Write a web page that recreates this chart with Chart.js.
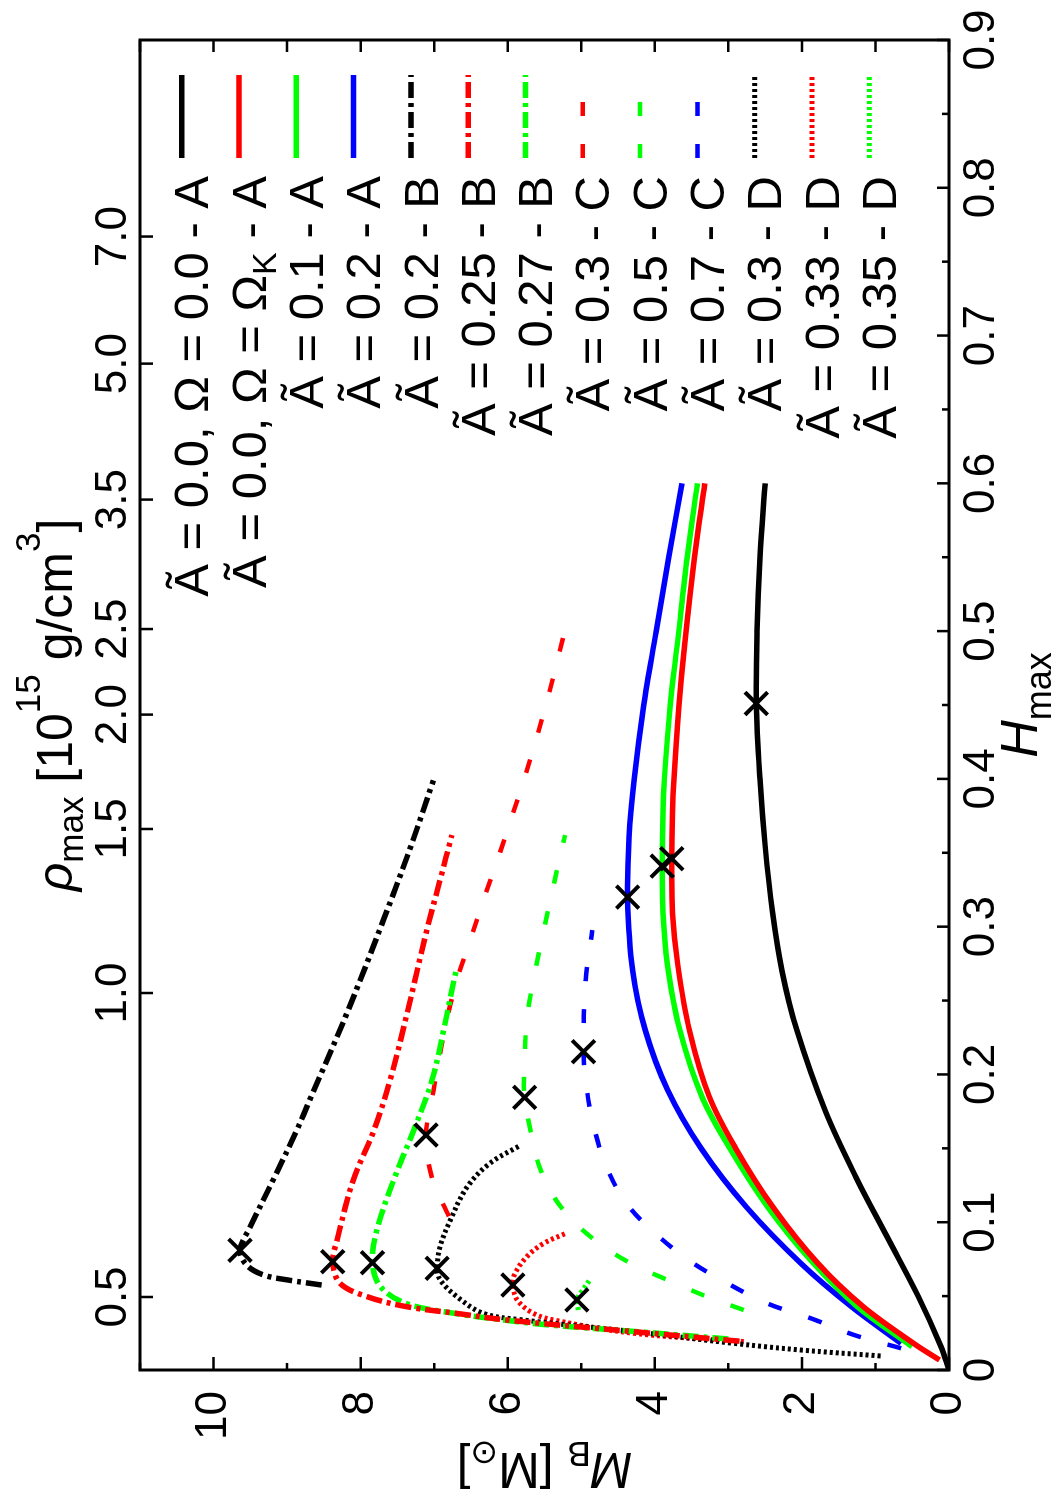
<!DOCTYPE html>
<html>
<head>
<meta charset="utf-8">
<title>Baryonic mass vs H_max</title>
<script src="https://cdn.jsdelivr.net/npm/chart.js@4.4.1/dist/chart.umd.min.js"></script>
<style>
    html, body { margin: 0; padding: 0; background: #fff; }
    #page { position: relative; width: 1053px; height: 1490px; overflow: hidden; background: #fff; }
    /* the figure is drawn landscape and turned a quarter turn, like the original print */
    #turn { position: absolute; left: 0; top: 0; width: 1490px; height: 1053px;
            transform-origin: 0 0; transform: translate(0, 1490px) rotate(-90deg); }
</style>
</head>
<body>
<div id="page"><div id="turn"><canvas id="massChart" width="1490" height="1053"></canvas></div></div>
<script>
// Axis ticks
const hTicks = [0, 0.1, 0.2, 0.3, 0.4, 0.5, 0.6, 0.7, 0.8, 0.9];
const hTickLabels = ['0', '0.1', '0.2', '0.3', '0.4', '0.5', '0.6', '0.7', '0.8', '0.9'];
const hMinorTicks = [0.05, 0.15, 0.25, 0.35, 0.45, 0.55, 0.65, 0.75, 0.85];
const mTicks = [0, 2, 4, 6, 8, 10];
const mTickLabels = ['0', '2', '4', '6', '8', '10'];
const mMinorTicks = [1, 3, 5, 7, 9, 11];
// top axis: rho_max ticks placed at their H_max positions
const rhoTickH = [0.0494, 0.2551, 0.3661, 0.4435, 0.5014, 0.589, 0.681, 0.767];
const rhoTickLabels = ['0.5', '1.0', '1.5', '2.0', '2.5', '3.5', '5.0', '7.0'];

// Curves: H_max (x) and M_B (y)
// A - solid
const hA00 = [0, 0.016, 0.05, 0.09, 0.13, 0.175, 0.23, 0.27, 0.31, 0.355, 0.40, 0.451, 0.50, 0.55, 0.6];
const mA00 = [0, 0.11, 0.42, 0.84, 1.26, 1.68, 2.07, 2.27, 2.40, 2.50, 2.57, 2.62, 2.61, 2.57, 2.50];
const hAK = [0.0068, 0.018, 0.043, 0.072, 0.11, 0.15, 0.185, 0.23, 0.275, 0.309, 0.346, 0.377, 0.40, 0.45, 0.493, 0.55, 0.6];
const mAK = [0.13, 0.48, 1.17, 1.78, 2.39, 2.90, 3.26, 3.53, 3.69, 3.76, 3.77, 3.76, 3.74, 3.67, 3.59, 3.46, 3.32];
const hA01 = [0.0158, 0.043, 0.072, 0.11, 0.15, 0.185, 0.23, 0.275, 0.309, 0.341, 0.377, 0.40, 0.45, 0.493, 0.55, 0.6];
const mA01 = [0.50, 1.25, 1.84, 2.46, 2.98, 3.36, 3.66, 3.83, 3.89, 3.90, 3.89, 3.87, 3.79, 3.69, 3.56, 3.42];
const hA02 = [0.018, 0.043, 0.072, 0.11, 0.15, 0.19, 0.23, 0.27, 0.32, 0.36, 0.40, 0.45, 0.50, 0.55, 0.6];
const mA02 = [0.65, 1.33, 2.01, 2.75, 3.37, 3.83, 4.13, 4.30, 4.37, 4.35, 4.28, 4.15, 3.98, 3.81, 3.63];
// B - dash-dot
const hB020 = [0.0575, 0.061, 0.0643, 0.071, 0.081, 0.097, 0.1286, 0.162, 0.183, 0.241, 0.3045, 0.354, 0.399];
const mB020 = [8.53, 9.0, 9.32, 9.55, 9.64, 9.50, 9.19, 8.87, 8.69, 8.19, 7.69, 7.32, 7.01];
const hB025 = [0.0195, 0.026, 0.0338, 0.0383, 0.0428, 0.0496, 0.0587, 0.0733, 0.088, 0.1286, 0.162, 0.196, 0.241, 0.2977, 0.3316, 0.362];
const mB025 = [2.85, 4.3, 6.01, 6.69, 7.37, 7.91, 8.28, 8.38, 8.32, 8.10, 7.82, 7.60, 7.37, 7.10, 6.92, 6.76];
const hB027 = [0.021, 0.026, 0.0305, 0.0338, 0.0383, 0.045, 0.0564, 0.0726, 0.0947, 0.1286, 0.162, 0.196, 0.228, 0.264, 0.272];
const mB027 = [3.0, 4.25, 5.45, 6.05, 6.72, 7.38, 7.73, 7.84, 7.78, 7.55, 7.28, 7.03, 6.88, 6.73, 6.69];
// C - dashed
const hC030 = [0.104, 0.13, 0.159, 0.189, 0.232, 0.264, 0.291, 0.318, 0.345, 0.372, 0.399, 0.452, 0.501];
const mC030 = [6.80, 7.03, 7.11, 7.01, 6.85, 6.69, 6.51, 6.33, 6.14, 5.96, 5.78, 5.47, 5.22];
const hC050 = [0.0406, 0.0496, 0.061, 0.0733, 0.09, 0.1105, 0.135, 0.162, 0.1845, 0.196, 0.237, 0.264, 0.293, 0.3226, 0.3496, 0.362];
const mC050 = [2.79, 3.29, 3.83, 4.37, 4.87, 5.28, 5.55, 5.69, 5.77, 5.78, 5.74, 5.65, 5.53, 5.40, 5.28, 5.22];
const hC070 = [0.0147, 0.0237, 0.035, 0.045, 0.0586, 0.0733, 0.0914, 0.1117, 0.1365, 0.1647, 0.192, 0.2154, 0.264, 0.2977];
const mC070 = [0.65, 1.29, 1.88, 2.47, 3.01, 3.51, 3.97, 4.37, 4.65, 4.83, 4.93, 4.97, 4.94, 4.85];
// D - dotted
const hD030 = [0.0095, 0.0135, 0.018, 0.026, 0.0338, 0.0383, 0.0496, 0.061, 0.0688, 0.0834, 0.1015, 0.124, 0.14, 0.152];
const mD030 = [0.93, 2.01, 2.92, 4.29, 5.78, 6.33, 6.69, 6.92, 6.96, 6.92, 6.78, 6.55, 6.24, 5.83];
const hD033 = [0.0192, 0.0248, 0.0338, 0.0383, 0.0474, 0.0575, 0.0654, 0.0767, 0.0857, 0.0925];
const mD033 = [2.79, 4.28, 5.37, 5.65, 5.87, 5.93, 5.90, 5.74, 5.51, 5.21];
const hD035 = [0.0406, 0.0474, 0.0519, 0.062];
const mD035 = [5.04, 5.06, 5.01, 4.87];

// Crosses (maximum mass points)
const markerH = [0.451, 0.346, 0.341, 0.32, 0.081, 0.0733, 0.0726, 0.159, 0.1845, 0.2154, 0.0688, 0.0575, 0.0474];
const markerM = [2.62, 3.77, 3.90, 4.37, 9.64, 8.38, 7.84, 7.11, 5.77, 4.97, 6.96, 5.93, 5.06];

// Styles
const BLACK = '#000000', RED = '#ff0000', GREEN = '#00ff00', BLUE = '#0000ff';
const FONT = "'Liberation Sans', 'DejaVu Sans', sans-serif";
const lineStyles = {
    solid:   { width: 5.5, dash: [] },
    dashdot: { width: 5.5, dash: [16, 5, 4, 5] },
    dashed:  { width: 4.5, dash: [14, 28] },
    dotted:  { width: 5,   dash: [3, 3] }
};

const series = [
    { label: 'Ã = 0.0, Ω = 0.0 - A',  h: hA00,  m: mA00,  color: BLACK, style: 'solid' },
    { label: 'Ã = 0.0, Ω = Ω_K - A',  h: hAK,   m: mAK,   color: RED,   style: 'solid' },
    { label: 'Ã = 0.1 - A',           h: hA01,  m: mA01,  color: GREEN, style: 'solid' },
    { label: 'Ã = 0.2 - A',           h: hA02,  m: mA02,  color: BLUE,  style: 'solid' },
    { label: 'Ã = 0.2 - B',           h: hB020, m: mB020, color: BLACK, style: 'dashdot' },
    { label: 'Ã = 0.25 - B',          h: hB025, m: mB025, color: RED,   style: 'dashdot' },
    { label: 'Ã = 0.27 - B',          h: hB027, m: mB027, color: GREEN, style: 'dashdot' },
    { label: 'Ã = 0.3 - C',           h: hC030, m: mC030, color: RED,   style: 'dashed' },
    { label: 'Ã = 0.5 - C',           h: hC050, m: mC050, color: GREEN, style: 'dashed' },
    { label: 'Ã = 0.7 - C',           h: hC070, m: mC070, color: BLUE,  style: 'dashed' },
    { label: 'Ã = 0.3 - D',           h: hD030, m: mD030, color: BLACK, style: 'dotted' },
    { label: 'Ã = 0.33 - D',          h: hD033, m: mD033, color: RED,   style: 'dotted' },
    { label: 'Ã = 0.35 - D',          h: hD035, m: mD035, color: GREEN, style: 'dotted' }
];

// Layout (canvas is landscape, 1490 x 1053)
const CW = 1490, CH = 1053;
const PLOT_LEFT = 120, PLOT_RIGHT = 1450, PLOT_TOP = 140, PLOT_BOTTOM = 949;

const toPoints = (hs, ms) => hs.map((h, i) => ({ x: h, y: ms[i] }));

// text with sub/superscripts
const drawRich = (ctx, parts, x, y, align) => {
    let w = 0;
    parts.forEach(p => { ctx.font = p.font; w += ctx.measureText(p.t).width; });
    let cx = align === 'right' ? x - w : (align === 'center' ? x - w / 2 : x);
    parts.forEach(p => {
        ctx.font = p.font;
        ctx.fillText(p.t, cx, y + (p.dy || 0));
        cx += ctx.measureText(p.t).width;
    });
};

const labelParts = (label, size) => {
    const parts = [];
    label.split(/_(.)/).forEach((t, i) => {
        if (!t) return;
        if (i % 2 === 1) parts.push({ t, font: `${Math.round(size * 0.7)}px ${FONT}`, dy: size * 0.22 });
        else parts.push({ t, font: `${size}px ${FONT}` });
    });
    return parts;
};

// Frame, inward ticks, axis titles and key
const figurePlugin = {
    id: 'figure',
    afterDatasetsDraw(chart) {
        const { ctx, chartArea: a, scales } = chart;
        const x = scales.x, y = scales.y;
        ctx.save();
        ctx.strokeStyle = '#000';
        ctx.fillStyle = '#000';
        ctx.lineCap = 'butt';
        ctx.setLineDash([]);

        // ticks
        ctx.lineWidth = 2.5;
        ctx.beginPath();
        const tickH = (vals, len) => vals.forEach(h => {
            const px = x.getPixelForValue(h);
            ctx.moveTo(px, a.bottom); ctx.lineTo(px, a.bottom - len);
        });
        tickH(hTicks, 12);
        tickH(hMinorTicks, 7);
        rhoTickH.forEach(h => {
            const px = x.getPixelForValue(h);
            ctx.moveTo(px, a.top); ctx.lineTo(px, a.top + 13);
        });
        const tickM = (vals, lenL, lenR) => vals.forEach(m => {
            const py = y.getPixelForValue(m);
            ctx.moveTo(a.left, py); ctx.lineTo(a.left + lenL, py);
            ctx.moveTo(a.right, py); ctx.lineTo(a.right - lenR, py);
        });
        tickM(mTicks, 13, 12);
        tickM(mMinorTicks, 7, 12);
        ctx.stroke();

        // frame
        ctx.lineWidth = 3;
        ctx.strokeRect(a.left, a.top, a.right - a.left, a.bottom - a.top);

        // axis titles
        ctx.textBaseline = 'alphabetic';
        drawRich(ctx, [
            { t: 'H', font: `italic 52px ${FONT}` },
            { t: 'max', font: `36px ${FONT}`, dy: 14 }
        ], (a.left + a.right) / 2, 1037, 'center');

        drawRich(ctx, [
            { t: 'ρ', font: `italic 50px ${FONT}` },
            { t: 'max', font: `35px ${FONT}`, dy: 11 },
            { t: ' [10', font: `50px ${FONT}` },
            { t: '15', font: `35px ${FONT}`, dy: -32 },
            { t: ' g/cm', font: `50px ${FONT}` },
            { t: '3', font: `35px ${FONT}`, dy: -32 },
            { t: ']', font: `50px ${FONT}` }
        ], (a.left + a.right) / 2, 72, 'center');

        ctx.save();
        ctx.translate(37, (a.top + a.bottom) / 2);
        ctx.rotate(-Math.PI / 2);
        drawRich(ctx, [
            { t: 'M', font: `italic 50px ${FONT}` },
            { t: 'B', font: `35px ${FONT}`, dy: 11 },
            { t: ' [M', font: `50px ${FONT}` },
            { t: '⊙', font: `33px ${FONT}`, dy: 11 },
            { t: ']', font: `50px ${FONT}` }
        ], 0, 0, 'center');
        ctx.restore();

        // key
        const KEY_V0 = 181.7, KEY_DV = 57.3, KEY_TEXT_R = 1314, KEY_L0 = 1332, KEY_L1 = 1415;
        series.forEach((s, i) => {
            const v = KEY_V0 + i * KEY_DV;
            const st = lineStyles[s.style];
            ctx.strokeStyle = s.color;
            ctx.lineWidth = st.width;
            ctx.setLineDash(st.dash);
            ctx.beginPath();
            ctx.moveTo(KEY_L0, v);
            ctx.lineTo(KEY_L1, v);
            ctx.stroke();
            ctx.setLineDash([]);
            ctx.fillStyle = '#000';
            drawRich(ctx, labelParts(s.label, 49), KEY_TEXT_R, v + 26.6, 'right');
        });
        ctx.restore();
    }
};

Chart.defaults.font.family = FONT;
Chart.defaults.color = '#000';

const datasets = [{
    label: 'maximum mass',
    data: toPoints(markerH, markerM),
    showLine: false,
    pointStyle: 'crossRot',
    pointRadius: 16,
    pointBorderWidth: 4,
    pointBorderColor: BLACK,
    pointBackgroundColor: BLACK,
    order: 0
}].concat(series.map(s => ({
    label: s.label,
    data: toPoints(s.h, s.m),
    showLine: true,
    borderColor: s.color,
    borderWidth: lineStyles[s.style].width,
    borderDash: lineStyles[s.style].dash,
    borderCapStyle: 'butt',
    tension: 0.35,
    pointRadius: 0,
    fill: false,
    order: 1
})));

const noGrid = { display: false, drawTicks: false };

new Chart(document.getElementById('massChart'), {
    type: 'scatter',
    data: { datasets },
    options: {
        responsive: false,
        animation: false,
        devicePixelRatio: 1,
        events: [],
        layout: { padding: 0 },
        plugins: { legend: { display: false }, tooltip: { enabled: false } },
        scales: {
            x: {
                type: 'linear', position: 'bottom', min: 0, max: 0.9,
                grid: noGrid, border: { display: false },
                afterBuildTicks: s => { s.ticks = hTicks.map(v => ({ value: v })); },
                afterFit: s => { s.height = CH - PLOT_BOTTOM; },
                ticks: { autoSkip: false, maxRotation: 0, minRotation: 0, padding: 6,
                         font: { size: 44 }, callback: (v, i) => hTickLabels[i] }
            },
            x2: {
                type: 'linear', position: 'top', min: 0, max: 0.9,
                grid: noGrid, border: { display: false },
                afterBuildTicks: s => { s.ticks = rhoTickH.map(v => ({ value: v })); },
                afterFit: s => { s.height = PLOT_TOP; },
                ticks: { autoSkip: false, maxRotation: 0, minRotation: 0, padding: 0,
                         font: { size: 44 }, callback: (v, i) => rhoTickLabels[i] }
            },
            y: {
                type: 'linear', position: 'left', min: 0, max: 11,
                grid: noGrid, border: { display: false },
                afterBuildTicks: s => { s.ticks = mTicks.map(v => ({ value: v })); },
                afterFit: s => { s.width = PLOT_LEFT; },
                ticks: { autoSkip: false, padding: 21, font: { size: 44 },
                         callback: (v, i) => mTickLabels[i] }
            },
            yR: {
                type: 'linear', position: 'right', min: 0, max: 11,
                grid: noGrid, border: { display: false },
                ticks: { display: false },
                afterFit: s => { s.width = CW - PLOT_RIGHT; }
            }
        }
    },
    plugins: [figurePlugin]
});
</script>
</body>
</html>
